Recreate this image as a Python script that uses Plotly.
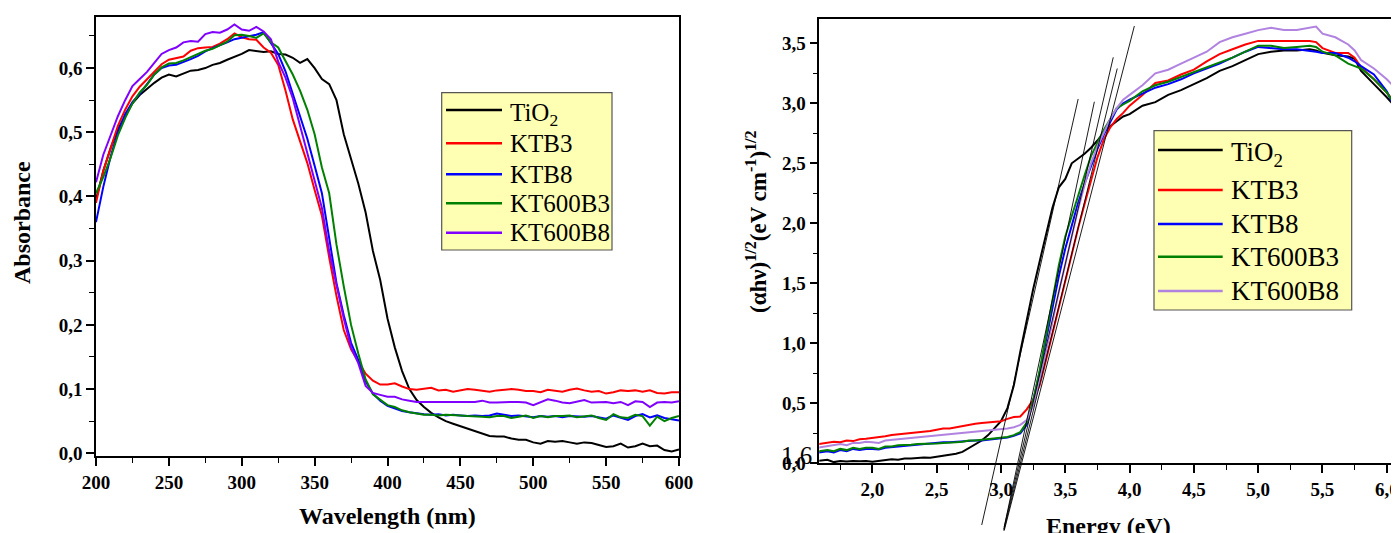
import plotly.graph_objects as go

# ---------------- Left panel data: absorbance vs wavelength ----------------
wavelength = list(range(200, 605, 5))

abs_tio2 = [0.395, 0.440, 0.475, 0.505, 0.525, 0.545, 0.558, 0.568, 0.577, 0.585,
            0.590, 0.587, 0.592, 0.596, 0.597, 0.600, 0.605, 0.608, 0.613, 0.617,
            0.622, 0.628, 0.627, 0.625, 0.626, 0.622, 0.621, 0.616, 0.608, 0.614,
            0.600, 0.583, 0.575, 0.550, 0.497, 0.458, 0.420, 0.375, 0.315, 0.270,
            0.210, 0.165, 0.128, 0.100, 0.083, 0.072, 0.063, 0.056, 0.050, 0.046,
            0.042, 0.038, 0.034, 0.030, 0.027, 0.026, 0.026, 0.023, 0.021, 0.021,
            0.017, 0.015, 0.019, 0.018, 0.019, 0.017, 0.015, 0.017, 0.016, 0.013,
            0.010, 0.011, 0.015, 0.009, 0.011, 0.015, 0.011, 0.012, 0.005, 0.003,
            0.006]
abs_ktb3 = [0.390, 0.440, 0.475, 0.510, 0.535, 0.556, 0.571, 0.583, 0.595, 0.606,
            0.613, 0.615, 0.618, 0.627, 0.631, 0.632, 0.633, 0.638, 0.645, 0.654,
            0.648, 0.645, 0.644, 0.632, 0.624, 0.605, 0.565, 0.520, 0.487, 0.452,
            0.410, 0.370, 0.305, 0.245, 0.192, 0.162, 0.143, 0.124, 0.113, 0.107,
            0.107, 0.109, 0.104, 0.100, 0.099, 0.100, 0.102, 0.098, 0.099, 0.096,
            0.098, 0.100, 0.099, 0.097, 0.096, 0.098, 0.099, 0.100, 0.099, 0.097,
            0.097, 0.095, 0.099, 0.097, 0.096, 0.099, 0.101, 0.098, 0.096, 0.097,
            0.093, 0.095, 0.098, 0.097, 0.098, 0.096, 0.098, 0.094, 0.093, 0.095,
            0.095]
abs_ktb8 = [0.360, 0.415, 0.462, 0.500, 0.528, 0.547, 0.560, 0.575, 0.590, 0.600,
            0.604, 0.605, 0.609, 0.614, 0.619, 0.626, 0.631, 0.635, 0.640, 0.645,
            0.647, 0.650, 0.652, 0.656, 0.640, 0.622, 0.595, 0.560, 0.528, 0.490,
            0.448, 0.405, 0.335, 0.265, 0.215, 0.172, 0.145, 0.112, 0.093, 0.082,
            0.074, 0.070, 0.066, 0.064, 0.062, 0.061, 0.060, 0.061, 0.059, 0.060,
            0.059, 0.058, 0.059, 0.058, 0.059, 0.062, 0.060, 0.058, 0.059, 0.057,
            0.056, 0.058, 0.057, 0.058, 0.056, 0.058, 0.057, 0.057, 0.058, 0.056,
            0.054, 0.059, 0.056, 0.052, 0.058, 0.061, 0.056, 0.059, 0.055, 0.053,
            0.051]
abs_kt600b3 = [0.405, 0.430, 0.460, 0.495, 0.522, 0.545, 0.562, 0.574, 0.590, 0.601,
               0.607, 0.608, 0.612, 0.617, 0.622, 0.627, 0.630, 0.636, 0.641, 0.651,
               0.652, 0.650, 0.647, 0.654, 0.640, 0.632, 0.612, 0.590, 0.565, 0.535,
               0.497, 0.445, 0.405, 0.325, 0.260, 0.200, 0.155, 0.115, 0.092, 0.083,
               0.075, 0.072, 0.067, 0.064, 0.062, 0.060, 0.060, 0.059, 0.060, 0.060,
               0.059, 0.058, 0.058, 0.057, 0.056, 0.058, 0.058, 0.055, 0.057, 0.059,
               0.055, 0.058, 0.056, 0.058, 0.058, 0.059, 0.056, 0.057, 0.059, 0.055,
               0.052, 0.061, 0.056, 0.055, 0.060, 0.058, 0.043, 0.057, 0.050, 0.055,
               0.058]
abs_kt600b8 = [0.422, 0.465, 0.495, 0.525, 0.550, 0.572, 0.583, 0.594, 0.608, 0.622,
               0.628, 0.632, 0.640, 0.642, 0.641, 0.653, 0.656, 0.655, 0.660, 0.668,
               0.660, 0.658, 0.664, 0.657, 0.645, 0.610, 0.585, 0.553, 0.510, 0.468,
               0.428, 0.382, 0.315, 0.260, 0.210, 0.165, 0.140, 0.105, 0.094, 0.091,
               0.088, 0.088, 0.084, 0.082, 0.080, 0.080, 0.080, 0.080, 0.081, 0.080,
               0.080, 0.081, 0.080, 0.082, 0.079, 0.079, 0.080, 0.080, 0.080, 0.079,
               0.075, 0.080, 0.084, 0.082, 0.079, 0.078, 0.080, 0.083, 0.079, 0.079,
               0.080, 0.078, 0.080, 0.075, 0.081, 0.080, 0.072, 0.079, 0.080, 0.079,
               0.081]

# ---------------- Right panel data: Tauc plot ----------------
energy = [1.58,
          1.65, 1.70, 1.75, 1.80, 1.85, 1.90, 1.95, 2.00,
          2.05, 2.10, 2.15, 2.20, 2.25, 2.30, 2.35, 2.40,
          2.45, 2.50, 2.55, 2.60, 2.65, 2.70, 2.75, 2.80,
          2.85, 2.90, 2.95, 3.00, 3.05, 3.10, 3.15, 3.20,
          3.25, 3.30, 3.35, 3.40, 3.45, 3.50, 3.55, 3.60,
          3.65, 3.70, 3.75, 3.80, 3.85, 3.90, 3.95, 4.00,
          4.10, 4.20, 4.30, 4.40, 4.50, 4.60, 4.70, 4.80,
          4.90, 5.00, 5.10, 5.20, 5.30, 5.40, 5.45,
          5.50, 5.60, 5.70, 5.75, 5.80, 5.90, 6.00, 6.10]

tauc_tio2 = [0.02,
             0.03, 0.01, 0.02, 0.015, 0.02, 0.018, 0.02, 0.012,
             0.02, 0.025, 0.033, 0.03, 0.04, 0.04, 0.045, 0.048,
             0.047, 0.055, 0.063, 0.07, 0.08, 0.095, 0.125, 0.16,
             0.19, 0.235, 0.29, 0.35, 0.46, 0.65, 0.93, 1.20,
             1.45, 1.68, 1.90, 2.13, 2.30, 2.37, 2.50, 2.54,
             2.58, 2.63, 2.69, 2.76, 2.81, 2.85, 2.89, 2.91,
             2.98, 3.01, 3.07, 3.11, 3.16, 3.21, 3.27, 3.31,
             3.36, 3.41, 3.43, 3.44, 3.44, 3.45, 3.44,
             3.42, 3.40, 3.39, 3.37, 3.27, 3.16, 3.05, 2.93]
tauc_ktb3 = [0.16,
             0.17, 0.18, 0.175, 0.19, 0.185, 0.20, 0.205, 0.21,
             0.215, 0.225, 0.235, 0.24, 0.245, 0.25, 0.26, 0.265,
             0.27, 0.28, 0.29, 0.29, 0.30, 0.31, 0.325, 0.33,
             0.335, 0.34, 0.345, 0.35, 0.37, 0.385, 0.39, 0.45,
             0.53, 0.65, 0.86, 1.08, 1.31, 1.53, 1.75, 1.96,
             2.16, 2.36, 2.55, 2.70, 2.80, 2.87, 2.92, 2.98,
             3.07, 3.17, 3.19, 3.24, 3.28, 3.35, 3.41, 3.45,
             3.49, 3.52, 3.52, 3.52, 3.52, 3.52, 3.51,
             3.46, 3.42, 3.42, 3.38, 3.30, 3.20, 3.09, 2.95]
tauc_ktb8 = [0.09,
             0.10, 0.09, 0.11, 0.10, 0.12, 0.11, 0.12, 0.12,
             0.115, 0.13, 0.135, 0.145, 0.15, 0.155, 0.16, 0.16,
             0.165, 0.17, 0.175, 0.175, 0.18, 0.18, 0.185, 0.19,
             0.19, 0.195, 0.20, 0.205, 0.215, 0.23, 0.25, 0.32,
             0.52, 0.76, 1.03, 1.30, 1.56, 1.79, 1.99, 2.17,
             2.33, 2.48, 2.62, 2.74, 2.85, 2.95, 3.00, 3.03,
             3.08, 3.13, 3.16, 3.20, 3.25, 3.29, 3.33, 3.38,
             3.43, 3.47, 3.46, 3.45, 3.45, 3.44, 3.43,
             3.42, 3.42, 3.38, 3.35, 3.31, 3.24, 3.10, 2.88]
tauc_kt600b3 = [0.10,
                0.11, 0.10, 0.12, 0.11, 0.13, 0.12, 0.13, 0.13,
                0.12, 0.14, 0.14, 0.15, 0.15, 0.155, 0.16, 0.16,
                0.165, 0.165, 0.17, 0.17, 0.175, 0.18, 0.19, 0.19,
                0.195, 0.20, 0.205, 0.21, 0.22, 0.235, 0.26, 0.34,
                0.52, 0.77, 1.06, 1.36, 1.65, 1.89, 2.07, 2.23,
                2.40, 2.56, 2.67, 2.78, 2.87, 2.96, 2.99, 3.02,
                3.10, 3.15, 3.18, 3.22, 3.26, 3.30, 3.34, 3.38,
                3.43, 3.48, 3.48, 3.46, 3.47, 3.48, 3.47,
                3.43, 3.40, 3.33, 3.31, 3.29, 3.20, 3.09, 2.93]
tauc_kt600b8 = [0.13,
                0.14, 0.15, 0.16, 0.15, 0.17, 0.17, 0.18, 0.175,
                0.17, 0.19, 0.195, 0.20, 0.21, 0.215, 0.22, 0.225,
                0.23, 0.235, 0.24, 0.245, 0.25, 0.255, 0.26, 0.265,
                0.27, 0.275, 0.28, 0.28, 0.29, 0.30, 0.32, 0.36,
                0.48, 0.68, 0.92, 1.18, 1.43, 1.66, 1.90, 2.12,
                2.32, 2.50, 2.64, 2.76, 2.87, 2.96, 3.03, 3.07,
                3.15, 3.25, 3.28, 3.33, 3.38, 3.43, 3.51, 3.55,
                3.58, 3.61, 3.63, 3.61, 3.61, 3.63, 3.64,
                3.58, 3.55, 3.49, 3.44, 3.36, 3.29, 3.20, 3.09]

# Tangent (band-gap extrapolation) lines: bottom and top end points
tangent_e_bottom = [2.850, 3.025, 3.021, 3.022, 3.025]
tangent_v_bottom = [-0.514, -0.530, -0.550, -0.560, -0.560]
tangent_e_top = [3.600, 3.726, 3.873, 3.904, 4.037]
tangent_v_top = [3.036, 3.013, 3.383, 3.290, 3.644]

names = ["TiO<sub>2</sub>", "KTB3", "KTB8", "KT600B3", "KT600B8"]
colors_left = ["#000000", "#FF0000", "#0000FF", "#008000", "#8000FF"]
colors_right = ["#000000", "#FF0000", "#0000FF", "#008000", "#B183E0"]

# ---------------- Layout geometry ----------------
# The page body adds an 8 px margin; the figure is sized to fill the rest of the window.
OFF = 8
WIN_W, WIN_H = 1399, 533
W, H = WIN_W - OFF, WIN_H - OFF


def fx(px):
    return (px - OFF) / W


def fy(py):
    return 1 - (py - OFF) / H


SERIF = "Liberation Serif"

fig = go.Figure()

left_series = [abs_tio2, abs_ktb3, abs_ktb8, abs_kt600b3, abs_kt600b8]
for ys, c, n in zip(left_series, colors_left, names):
    fig.add_trace(go.Scatter(x=wavelength, y=ys, mode="lines", name=n,
                             line=dict(color=c, width=2),
                             xaxis="x", yaxis="y", showlegend=False))

right_series = [tauc_tio2, tauc_ktb3, tauc_ktb8, tauc_kt600b3, tauc_kt600b8]
for ys, c, n in zip(right_series, colors_right, names):
    fig.add_trace(go.Scatter(x=energy, y=ys, mode="lines", name=n,
                             line=dict(color=c, width=2),
                             xaxis="x2", yaxis="y2", showlegend=False))

tx, ty = [], []
for eb, vb, et, vt in zip(tangent_e_bottom, tangent_v_bottom, tangent_e_top, tangent_v_top):
    tx += [eb, et, None]
    ty += [vb, vt, None]
fig.add_trace(go.Scatter(x=tx, y=ty, mode="lines", line=dict(color="black", width=0.9),
                         xaxis="x2", yaxis="y3", showlegend=False, hoverinfo="skip"))

tickfont = dict(family=SERIF, size=19, color="black", weight="bold")
common = dict(showline=True, linecolor="black", linewidth=1.5, mirror=True,
              ticks="outside", ticklen=8, tickwidth=1.5, tickcolor="black",
              showgrid=False, zeroline=False, tickfont=tickfont, automargin=False)

# right panel pixel geometry (window pixels)
r_left, r_top, r_bot = 819.3, 19.3, 463.3
y2_dom = [fy(r_bot), fy(r_top)]
y2_range = [0.0, 3.70]
span = (y2_range[1] - y2_range[0]) * (y2_dom[1] - 0.0) / (y2_dom[1] - y2_dom[0])
y3_range = [y2_range[1] - span, y2_range[1]]

minor_style = dict(ticks="outside", ticklen=5, tickwidth=1.2, tickcolor="black")

fig.update_layout(
    width=W, height=H, autosize=False,
    margin=dict(l=0, r=0, t=0, b=0, pad=0, autoexpand=False),
    paper_bgcolor="white", plot_bgcolor="rgba(0,0,0,0)",
    separators=", ",
    showlegend=False,
    xaxis=dict(domain=[fx(96), fx(679)], range=[200, 600], tick0=200, dtick=50,
               minor=dict(dtick=25, **minor_style), anchor="y", **common),
    yaxis=dict(domain=[fy(456), fy(16.7)], range=[-0.0042, 0.680], tick0=0, dtick=0.1,
               tickformat=".1f", minor=dict(dtick=0.05, **minor_style),
               anchor="x", **common),
    xaxis2=dict(domain=[fx(r_left), 1.0], range=[1.587, 6.095], tick0=0, dtick=0.5,
                tickformat=".1f", minor=dict(dtick=0.25, **minor_style),
                anchor="y2", **common),
    yaxis2=dict(domain=y2_dom, range=y2_range, tick0=0, dtick=0.5, tickformat=".1f",
                minor=dict(dtick=0.25, **minor_style),
                anchor="x2", **{**common, "mirror": False}),
    yaxis3=dict(domain=[0.0, y2_dom[1]], range=y3_range, visible=False, anchor="x2",
                showgrid=False, zeroline=False, automargin=False),
)

annotations = []
shapes = []

# Axis titles
title_font = dict(family=SERIF, size=24, color="black", weight="bold")
annotations.append(dict(text="Absorbance", x=fx(22), y=fy(223), xref="paper", yref="paper",
                        textangle=-90, showarrow=False, font=title_font,
                        xanchor="center", yanchor="middle"))
annotations.append(dict(text="Wavelength (nm)", x=fx(387.5), y=fy(516), xref="paper", yref="paper",
                        showarrow=False, font=title_font, xanchor="center", yanchor="middle"))
annotations.append(dict(text="(αhν)<sup>1/2</sup>(eV cm<sup>-1</sup>)<sup>1/2</sup>",
                        x=fx(757), y=fy(222), xref="paper", yref="paper",
                        textangle=-90, showarrow=False,
                        font=dict(family=SERIF, size=23, color="black", weight="bold"),
                        xanchor="center", yanchor="middle"))
annotations.append(dict(text="Energy (eV)", x=fx(1108), y=fy(526), xref="paper", yref="paper",
                        showarrow=False, font=title_font, xanchor="center", yanchor="middle"))
# stray label on the right panel
annotations.append(dict(text="1,6", x=fx(796), y=fy(455), xref="paper", yref="paper",
                        showarrow=False, font=dict(family=SERIF, size=25, color="black"),
                        xanchor="center", yanchor="middle"))


def add_legend(box, line_x, text_x, rows, colors, size):
    x0, y0, x1, y1 = box
    shapes.append(dict(type="rect", xref="paper", yref="paper",
                       x0=fx(x0), x1=fx(x1), y0=fy(y1), y1=fy(y0),
                       fillcolor="#FFFFB3", line=dict(color="#555555", width=1.2),
                       layer="above"))
    for i, (r, c, n) in enumerate(zip(rows, colors, names)):
        shapes.append(dict(type="line", xref="paper", yref="paper",
                           x0=fx(line_x[0]), x1=fx(line_x[1]), y0=fy(r), y1=fy(r),
                           line=dict(color=c, width=2.5), layer="above"))
        dy = 4 if i == 0 else 0
        annotations.append(dict(text=n, x=fx(text_x), y=fy(r + dy), xref="paper", yref="paper",
                                showarrow=False, xanchor="left", yanchor="middle",
                                font=dict(family=SERIF, size=size, color="black")))


add_legend((441.7, 92.7, 612, 250), (446, 502), 508, [110, 143.3, 174.3, 203.3, 232.7],
           colors_left, 25)
add_legend((1154, 130.7, 1351.7, 310), (1158, 1222.7), 1229, [150, 190, 224, 256.7, 291],
           colors_right, 27)

fig.update_layout(annotations=annotations, shapes=shapes)

fig.write_html("out.html")
